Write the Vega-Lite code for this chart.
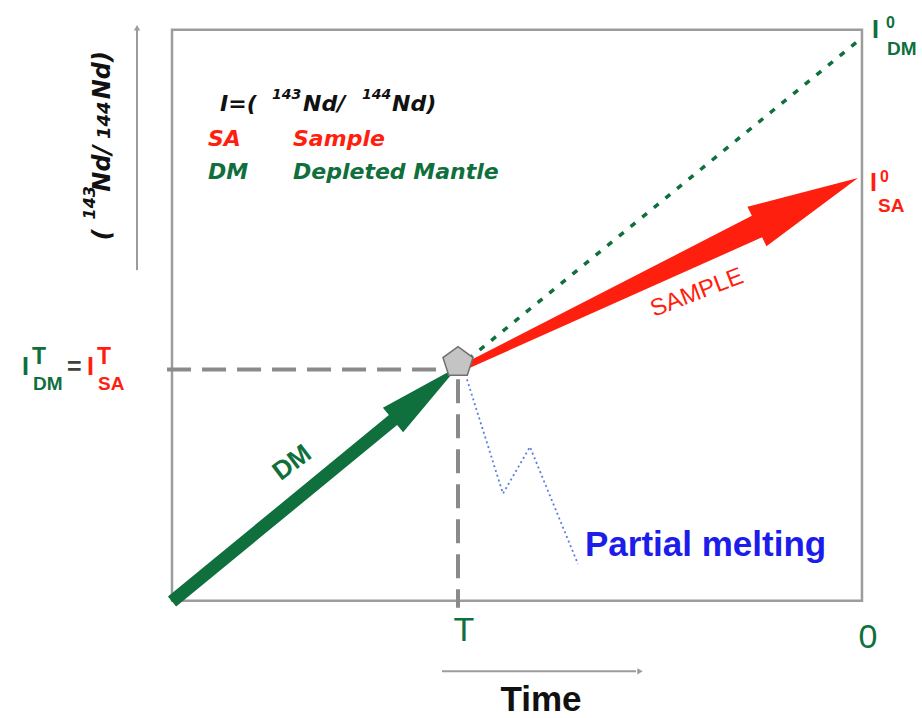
{
  "$schema": "https://vega.github.io/schema/vega-lite/v6.json",
  "width": 922,
  "height": 718,
  "autosize": {"type": "fit", "contains": "padding"},
  "padding": 0,
  "background": "white",
  "config": {"view": {"stroke": null}},
  "encoding": {
    "x": {"field": "x", "type": "quantitative", "scale": {"domain": [-24.93, 108.7], "nice": false, "zero": false}, "axis": null},
    "y": {"field": "y", "type": "quantitative", "scale": {"domain": [-19.65, 105.22], "nice": false, "zero": false}, "axis": null},
    "color": {
      "field": "c", "type": "nominal", "legend": null,
      "scale": {
        "domain": ["k", "g", "r", "b", "bl", "f", "dg", "eq", "pg"],
        "range": ["#111111", "#0f6f3d", "#ff1f0f", "#1c1ceb", "#5a7de0", "#9c9c9c", "#8a8a8a", "#404040", "#c4c4c4"]
      }
    }
  },
  "layer": [
    {
      "data": {"values": [{"x": 0, "y": 0, "x2": 100, "y2": 100, "c": "f"}]},
      "mark": {"type": "rect", "filled": false, "strokeWidth": 2.5},
      "encoding": {"x2": {"field": "x2"}, "y2": {"field": "y2"}}
    },
    {
      "data": {"values": [
        {"x": -0.72, "y": 40.52, "x2": 39.57, "y2": 40.52, "c": "dg"},
        {"x": 41.45, "y": 38.78, "x2": 41.45, "y2": -1.22, "c": "dg"}
      ]},
      "mark": {"type": "rule", "strokeWidth": 4, "strokeDash": [24, 11]},
      "encoding": {"x2": {"field": "x2"}, "y2": {"field": "y2"}}
    },
    {
      "data": {"values": [
        {"x": -5.07, "y": 57.91, "x2": -5.07, "y2": 100, "c": "f"},
        {"x": 39.13, "y": -12.35, "x2": 67.25, "y2": -12.35, "c": "f"}
      ]},
      "mark": {"type": "rule", "strokeWidth": 2},
      "encoding": {"x2": {"field": "x2"}, "y2": {"field": "y2"}}
    },
    {
      "data": {"values": [{"x": -5.07, "y": 100.35, "c": "f"}]},
      "mark": {"type": "point", "shape": "triangle-up", "size": 40, "filled": true, "opacity": 1}
    },
    {
      "data": {"values": [{"x": 67.83, "y": -12.35, "c": "f"}]},
      "mark": {"type": "point", "shape": "triangle-right", "size": 40, "filled": true, "opacity": 1}
    },
    {
      "data": {"values": [{"x": 42.9, "y": 42.26, "x2": 100, "y2": 98.61, "c": "g"}]},
      "mark": {"type": "rule", "strokeWidth": 3.5, "strokeDash": [6, 9]},
      "encoding": {"x2": {"field": "x2"}, "y2": {"field": "y2"}}
    },
    {
      "data": {"values": [
        {"x": 42.75, "y": 38.78, "o": 1, "c": "bl"},
        {"x": 47.97, "y": 18.78, "o": 2, "c": "bl"},
        {"x": 51.88, "y": 26.96, "o": 3, "c": "bl"},
        {"x": 58.84, "y": 6.43, "o": 4, "c": "bl"}
      ]},
      "mark": {"type": "line", "strokeWidth": 1.8, "strokeDash": [2, 3]},
      "encoding": {"order": {"field": "o", "type": "quantitative"}}
    },
    {
      "data": {"values": [{"x": 20.72, "y": 20.43, "c": "g"}]},
      "mark": {"type": "point", "filled": true, "opacity": 1, "strokeWidth": 0, "size": 136900, "angle": 320.59,
        "shape": "M-1,-0.035L0.546,-0.035L0.546,-0.086L1,0L0.546,0.086L0.546,0.035L-1,0.035Z"}
    },
    {
      "data": {"values": [{"x": 70.72, "y": 57.39, "c": "r"}]},
      "mark": {"type": "point", "filled": true, "opacity": 1, "strokeWidth": 0, "size": 192900, "angle": 334.37,
        "shape": "M-1,-0.014L0.49,-0.054L0.49,-0.1L1,0L0.49,0.1L0.49,0.054L-1,0.014Z"}
    },
    {
      "data": {"values": [{"x": 41.45, "y": 41.74, "c": "pg"}]},
      "mark": {"type": "point", "filled": true, "opacity": 1, "stroke": "#707070", "strokeWidth": 1.5, "size": 1000,
        "shape": "M0,-1L0.951,-0.309L0.588,0.809L-0.588,0.809L-0.951,-0.309Z"}
    },
    {
      "data": {"values": [
        {"x": 6.96, "y": 85.74, "t": "I=(", "c": "k"},
        {"x": 18.99, "y": 85.74, "t": "Nd/", "c": "k"},
        {"x": 31.88, "y": 85.74, "t": "Nd)", "c": "k"},
        {"x": 5.22, "y": 79.65, "t": "SA", "c": "r"},
        {"x": 17.54, "y": 79.65, "t": "Sample", "c": "r"},
        {"x": 5.22, "y": 73.91, "t": "DM", "c": "g"},
        {"x": 17.54, "y": 73.91, "t": "Depleted Mantle", "c": "g"}
      ]},
      "mark": {"type": "text", "font": "DejaVu Sans", "fontWeight": "bold", "fontStyle": "italic", "fontSize": 22, "align": "left", "baseline": "alphabetic"},
      "encoding": {"text": {"field": "t"}}
    },
    {
      "data": {"values": [
        {"x": 14.49, "y": 87.83, "t": "143", "c": "k"},
        {"x": 27.54, "y": 87.83, "t": "144", "c": "k"}
      ]},
      "mark": {"type": "text", "font": "DejaVu Sans", "fontWeight": "bold", "fontStyle": "italic", "fontSize": 14, "align": "left", "baseline": "alphabetic"},
      "encoding": {"text": {"field": "t"}}
    },
    {
      "data": {"values": [
        {"x": -21.74, "y": 39.48, "t": "I", "c": "g"},
        {"x": -15.22, "y": 39.48, "t": "=", "c": "eq"},
        {"x": -12.32, "y": 39.48, "t": "I", "c": "r"},
        {"x": 101.45, "y": 98.61, "t": "I", "c": "g"},
        {"x": 101.16, "y": 71.83, "t": "I", "c": "r"}
      ]},
      "mark": {"type": "text", "font": "Liberation Sans", "fontWeight": "bold", "fontSize": 25, "align": "left", "baseline": "alphabetic"},
      "encoding": {"text": {"field": "t"}}
    },
    {
      "data": {"values": [
        {"x": 103.48, "y": 100.35, "t": "0", "c": "g"},
        {"x": 102.61, "y": 73.39, "t": "0", "c": "r"}
      ]},
      "mark": {"type": "text", "font": "Liberation Sans", "fontWeight": "bold", "fontSize": 16, "align": "left", "baseline": "alphabetic"},
      "encoding": {"text": {"field": "t"}}
    },
    {
      "data": {"values": [
        {"x": 103.62, "y": 95.65, "t": "DM", "c": "g"},
        {"x": 102.32, "y": 68.17, "t": "SA", "c": "r"},
        {"x": -20.14, "y": 36.87, "t": "DM", "c": "g"},
        {"x": -10.72, "y": 36.87, "t": "SA", "c": "r"}
      ]},
      "mark": {"type": "text", "font": "Liberation Sans", "fontWeight": "bold", "fontSize": 19, "align": "left", "baseline": "alphabetic"},
      "encoding": {"text": {"field": "t"}}
    },
    {
      "data": {"values": [
        {"x": -20.29, "y": 41.39, "t": "T", "c": "g"},
        {"x": -10.87, "y": 41.39, "t": "T", "c": "r"}
      ]},
      "mark": {"type": "text", "font": "Liberation Sans", "fontWeight": "bold", "fontSize": 23, "align": "left", "baseline": "alphabetic"},
      "encoding": {"text": {"field": "t"}}
    },
    {
      "data": {"values": [
        {"x": 42.32, "y": -6.96, "t": "T", "c": "g"},
        {"x": 100.87, "y": -8.35, "t": "0", "c": "g"}
      ]},
      "mark": {"type": "text", "font": "Liberation Sans", "fontSize": 34, "align": "center", "baseline": "alphabetic"},
      "encoding": {"text": {"field": "t"}}
    },
    {
      "data": {"values": [{"x": 53.48, "y": -19.3, "t": "Time", "c": "k"}]},
      "mark": {"type": "text", "font": "Liberation Sans", "fontWeight": "bold", "fontSize": 35, "align": "center", "baseline": "alphabetic"},
      "encoding": {"text": {"field": "t"}}
    },
    {
      "data": {"values": [{"x": 59.86, "y": 7.83, "t": "Partial melting", "c": "b"}]},
      "mark": {"type": "text", "font": "Liberation Sans", "fontWeight": "bold", "fontSize": 35, "align": "left", "baseline": "alphabetic"},
      "encoding": {"text": {"field": "t"}}
    },
    {
      "data": {"values": [{"x": 76.09, "y": 53.91, "t": "SAMPLE", "c": "r"}]},
      "mark": {"type": "text", "font": "Liberation Sans", "fontSize": 24, "angle": 339, "align": "center", "baseline": "middle"},
      "encoding": {"text": {"field": "t"}}
    },
    {
      "data": {"values": [{"x": 17.39, "y": 24.17, "t": "DM", "c": "g"}]},
      "mark": {"type": "text", "font": "Liberation Sans", "fontWeight": "bold", "fontSize": 26, "angle": 323, "align": "center", "baseline": "middle"},
      "encoding": {"text": {"field": "t"}}
    },
    {
      "data": {"values": [
        {"x": -8.99, "y": 63.13, "t": "(", "c": "k"},
        {"x": -8.99, "y": 71.65, "t": "Nd/", "c": "k"},
        {"x": -8.99, "y": 87.83, "t": "Nd)", "c": "k"}
      ]},
      "mark": {"type": "text", "font": "DejaVu Sans", "fontWeight": "bold", "fontStyle": "italic", "fontSize": 24, "angle": 270, "align": "left", "baseline": "alphabetic"},
      "encoding": {"text": {"field": "t"}}
    },
    {
      "data": {"values": [
        {"x": -11.16, "y": 66.78, "t": "143", "c": "k"}
      ]},
      "mark": {"type": "text", "font": "DejaVu Sans", "fontWeight": "bold", "fontStyle": "italic", "fontSize": 16, "angle": 270, "align": "left", "baseline": "alphabetic"},
      "encoding": {"text": {"field": "t"}}
    },
    {
      "data": {"values": [
        {"x": -8.99, "y": 80.87, "t": "144", "c": "k"}
      ]},
      "mark": {"type": "text", "font": "DejaVu Sans", "fontWeight": "bold", "fontStyle": "italic", "fontSize": 18, "angle": 270, "align": "left", "baseline": "alphabetic"},
      "encoding": {"text": {"field": "t"}}
    }
  ]
}
